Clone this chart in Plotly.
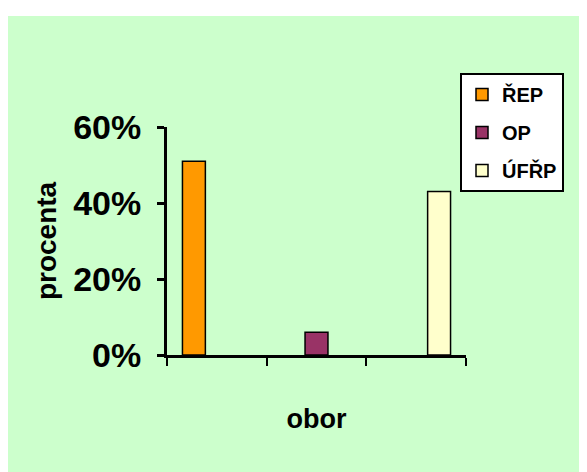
import plotly.graph_objects as go

categories = ['1', '2', '3']
series_names = ['ŘEP', 'OP', 'ÚFŘP']
series_values = [
    [0.51, None, None],
    [None, 0.06, None],
    [None, None, 0.43],
]
colors = ['#FF9900', '#993366', '#FFFFCC']
y_ticks = [0, 0.2, 0.4, 0.6]

fig = go.Figure()
for name, vals, col in zip(series_names, series_values, colors):
    fig.add_trace(go.Bar(x=categories, y=vals, name=name, legendgroup=name,
                         marker=dict(color=col, line=dict(color='black', width=1.5))))

# plot area in page pixels (page body adds an 8px offset)
L, R, T, B = 159, 458, 119, 347
W, H = 587, 472
pw, ph = R - L, B - T

font_family = 'Liberation Sans, Arial, sans-serif'
fig.update_layout(
    width=W, height=H,
    margin=dict(l=L, r=W - R, t=T, b=H - B),
    paper_bgcolor='white',
    plot_bgcolor='#CCFFCC',
    barmode='group', bargap=0.31, bargroupgap=0,
    font=dict(family=font_family, color='black'),
    shapes=[dict(type='rect', xref='paper', yref='paper', layer='below',
                 x0=(0 - L) / pw, x1=(W - L) / pw,
                 y0=(B - H) / ph, y1=(B - 8) / ph,
                 fillcolor='#CCFFCC', line=dict(width=0))],
    legend=dict(x=(452 - L) / pw, y=(B - 65) / ph, xanchor='left', yanchor='top',
                bgcolor='white', bordercolor='black', borderwidth=2,
                font=dict(size=20, family=font_family, weight='bold'),
                tracegroupgap=9, itemwidth=30),
    xaxis=dict(showticklabels=False, showgrid=False, tickson='boundaries',
               ticks='outside', ticklen=8, tickwidth=2, tickcolor='black',
               showline=True, linecolor='black', linewidth=2.5,
               title=dict(text='obor', standoff=53,
                          font=dict(size=27, family=font_family, weight='bold'))),
    yaxis=dict(range=[0, 0.6], tickvals=y_ticks, tickformat='.0%', showgrid=False,
               zeroline=False, ticks='outside', ticklen=7, tickwidth=3, tickcolor='black',
               showline=True, linecolor='black', linewidth=3, ticklabelstandoff=9,
               tickfont=dict(size=34, family=font_family, weight='bold'),
               title=dict(text='procenta', standoff=9,
                          font=dict(size=28, family=font_family, weight='bold'))),
)

fig.write_html("out.html")
